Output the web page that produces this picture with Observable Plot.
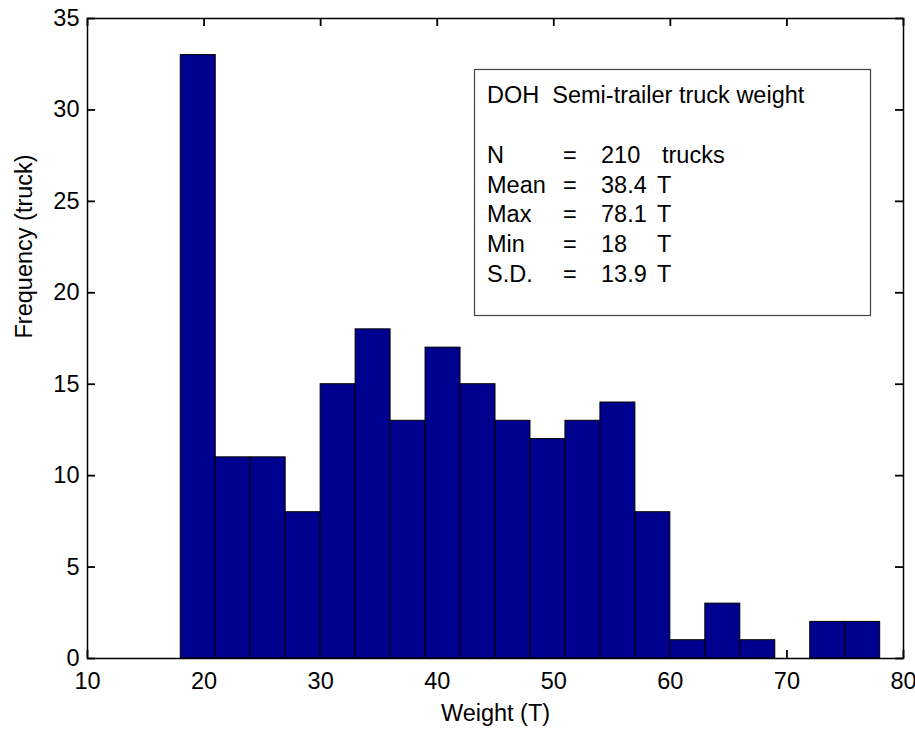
<!DOCTYPE html>
<html>
<head>
<meta charset="utf-8">
<script src="https://cdn.jsdelivr.net/npm/d3@7"></script>
<script src="https://cdn.jsdelivr.net/npm/@observablehq/plot@0.6"></script>
<style>
  html, body { margin: 0; padding: 0; background: #fff; }
  #chart { width: 915px; height: 729px; }
  svg text { font-family: "Liberation Sans", Arial, sans-serif; }
</style>
</head>
<body>
<div id="chart"></div>
<script>
// Histogram bins (weight, tonnes) and counts
const binStarts = [18, 21, 24, 27, 30, 33, 36, 39, 42, 45, 48, 51, 54, 57, 60, 63, 66, 69, 72, 75];
const binEnds   = [21, 24, 27, 30, 33, 36, 39, 42, 45, 48, 51, 54, 57, 60, 63, 66, 69, 72, 75, 78];
const counts    = [33, 11, 11, 8, 15, 18, 13, 17, 15, 13, 12, 13, 14, 8, 1, 3, 1, 0, 2, 2];

const xTicks = [10, 20, 30, 40, 50, 60, 70, 80];
const yTicks = [0, 5, 10, 15, 20, 25, 30, 35];

const xLabel = "Weight (T)";
const yLabel = "Frequency (truck)";

const legendTitle = "DOH  Semi-trailer truck weight";
const statLabels = ["N", "Mean", "Max", "Min", "S.D."];
const statValues = ["210", "38.4", "78.1", "18", "13.9"];
const statUnits  = ["trucks", "T", "T", "T", "T"];

const bins = binStarts.map((s, i) => ({x0: s, x1: binEnds[i], count: counts[i]}));

const xDomain = [10, 80], yDomain = [0, 35];
const W = 915, H = 729;
const mL = 87, mR = 12, mT = 18, mB = 71;
const plotW = W - mL - mR, plotH = H - mT - mB;
const tick = 8;
const fs = 23.5;
const tw = 1.8;
// tick length expressed in data units of each scale
const tx = tick * (xDomain[1] - xDomain[0]) / plotW;
const ty = tick * (yDomain[1] - yDomain[0]) / plotH;

const svg = Plot.plot({
  width: W,
  height: H,
  marginLeft: mL,
  marginRight: mR,
  marginTop: mT,
  marginBottom: mB,
  style: {fontFamily: '"Liberation Sans", Arial, sans-serif', fontSize: fs + "px", background: "#fff", color: "#000"},
  x: {domain: xDomain, ticks: xTicks},
  y: {domain: yDomain, ticks: yTicks},
  marks: [
    // inward ticks on all four sides
    Plot.ruleX(xTicks, {x: d => d, y1: () => yDomain[0], y2: () => yDomain[0] + ty, stroke: "black", strokeWidth: tw}),
    Plot.ruleX(xTicks, {x: d => d, y1: () => yDomain[1] - ty, y2: () => yDomain[1], stroke: "black", strokeWidth: tw}),
    Plot.ruleY(yTicks, {y: d => d, x1: () => xDomain[0], x2: () => xDomain[0] + tx, stroke: "black", strokeWidth: tw}),
    Plot.ruleY(yTicks, {y: d => d, x1: () => xDomain[1] - tx, x2: () => xDomain[1], stroke: "black", strokeWidth: tw}),
    Plot.rectY(bins, {x1: "x0", x2: "x1", y: "count", fill: "#00008F", stroke: "black", strokeWidth: 1}),
    Plot.frame({stroke: "black", strokeWidth: 1.5}),
    Plot.axisX(xTicks, {anchor: "bottom", tickSize: 0, tickPadding: 14, label: null, fontSize: fs}),
    Plot.axisY(yTicks, {anchor: "left", tickSize: 0, tickPadding: 8, label: null, fontSize: fs}),
    Plot.text([xLabel], {text: d => d, frameAnchor: "bottom", dy: 55, lineAnchor: "middle", fontSize: fs, fill: "black"}),
    Plot.text([yLabel], {text: d => d, frameAnchor: "left", dx: 24 - mL, rotate: -90, lineAnchor: "middle", fontSize: fs, fill: "black"})
  ]
});

document.getElementById("chart").appendChild(svg);

// Legend / statistics box
const g = d3.select(svg).append("g")
  .attr("font-size", fs).attr("fill", "black").attr("text-anchor", "start");
g.append("rect")
  .attr("x", 474.5).attr("y", 69.5).attr("width", 396).attr("height", 246)
  .attr("fill", "white").attr("stroke", "#444").attr("stroke-width", 1.2);
g.append("text").attr("x", 487).attr("y", 103).style("white-space", "pre").text(legendTitle);
const cols = [487, 563, 601, 657];
statLabels.forEach((lab, i) => {
  const y = 163 + i * 29.7;
  g.append("text").attr("x", cols[0]).attr("y", y).text(lab);
  g.append("text").attr("x", cols[1]).attr("y", y).text("=");
  g.append("text").attr("x", cols[2]).attr("y", y).text(statValues[i]);
  g.append("text").attr("x", cols[3] + (i === 0 ? 5 : 0)).attr("y", y).text(statUnits[i]);
});
</script>
</body>
</html>
